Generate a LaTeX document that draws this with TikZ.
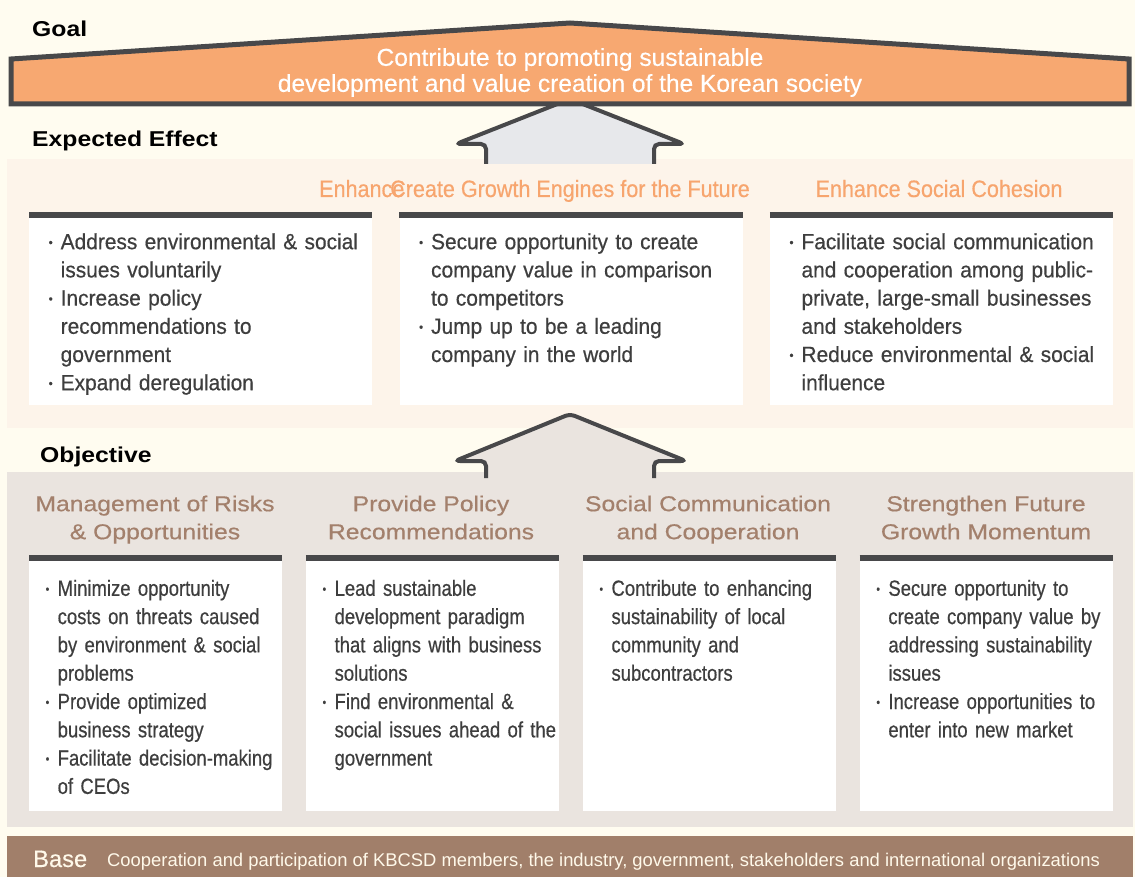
\documentclass[tikz,border=0pt]{standalone}
\usepackage{fontspec}
\setmainfont{Liberation Sans}
\newfontfamily\goalfont[FakeBold=0.4]{Liberation Sans}
\newfontfamily\bodyfont[FakeStretch=0.95, FakeBold=0.5]{Liberation Sans}
\newfontfamily\objbodyfont[FakeStretch=0.84, FakeBold=0.5]{Liberation Sans}
\newfontfamily\effectfont[FakeStretch=0.91, FakeBold=0.5]{Liberation Sans}
\newfontfamily\widefont[FakeStretch=1.15, FakeBold=0.5]{Liberation Sans}
\newfontfamily\titlefont[FakeStretch=1.15]{Liberation Sans}
\usetikzlibrary{positioning, calc}
\definecolor{creamcolor}{RGB}{255, 252, 240}
\definecolor{effectband}{RGB}{253, 244, 234}
\definecolor{objband}{RGB}{234, 228, 223}
\definecolor{roofcolor}{RGB}{247, 168, 113}
\definecolor{edgecolor}{RGB}{72, 72, 74}
\definecolor{arrowgray}{RGB}{231, 232, 235}
\definecolor{effecttext}{RGB}{247, 165, 110}
\definecolor{objtext}{RGB}{163, 128, 108}
\definecolor{bodytext}{RGB}{62, 62, 62}
\definecolor{basecolor}{RGB}{161, 127, 106}
\definecolor{basetext}{RGB}{255, 249, 234}

\newlength{\bulw}
\setlength{\bulw}{12pt}
\newcommand{\bul}[1]{\par\hangindent=\bulw\hangafter=1\noindent\makebox[\bulw][l]{\strut\raisebox{2.6pt}{\scalebox{0.55}{\textbullet}}}#1\par}

\begin{document}
\begin{tikzpicture}[
    x=1pt, y=-1pt,
    effbox/.style={rectangle, fill=white, anchor=north west, inner sep=0pt, minimum width=343pt, minimum height=193pt},
    objbox/.style={rectangle, fill=white, anchor=north west, inner sep=0pt, minimum width=253pt, minimum height=256pt},
    topbar/.style={draw=edgecolor, line width=6pt},
    bodytxt/.style={anchor=north west, inner sep=0pt, text width=330pt, align=left, text=bodytext, font=\bodyfont\fontsize{22}{28.2}\selectfont},
    objtxt/.style={bodytxt, font=\objbodyfont\fontsize{22}{28.3}\selectfont},
    effhead/.style={anchor=base, inner sep=0pt, text=effecttext, font=\effectfont\fontsize{23.7}{28}\selectfont},
    objhead/.style={anchor=north, inner sep=0pt, align=center, text=objtext, font=\widefont\fontsize{21.5}{28}\selectfont},
    titletxt/.style={anchor=base west, inner sep=0pt, font=\titlefont\bfseries\fontsize{21.5}{26}\selectfont},
    bigarrow/.style={draw=edgecolor, line width=4pt, rounded corners=5pt},
]

% Background bands
\useasboundingbox (0,0) rectangle (1135,877);
\fill[creamcolor] (0,0) rectangle (1135,877);
\fill[effectband] (7,159) rectangle (1133,428);
\fill[objband] (7,472) rectangle (1133,827);
\fill[basecolor] (7,836) rectangle (1133,877);

% Arrow up to the goal
\path[bigarrow, fill=arrowgray] (486,164) -- (486,144) -- (456,144) -- (570,99) -- (684,144) -- (654,144) -- (654,164);

% Goal roof
\draw[draw=edgecolor, fill=roofcolor, line width=5pt] (11,59) -- (570,23) -- (1129,59) -- (1129,104) -- (11,104) -- cycle;
\node[anchor=north, inner sep=0pt, align=center, text=white, font=\goalfont\fontsize{24.5}{24}\selectfont] (goaltxt) at (570,47.9)
    {\strut Contribute to promoting sustainable\\ development and value creation of the Korean society};

% Arrow up to the expected effect
\path[bigarrow, fill=objband] (486,478) -- (486,461) -- (455,461) -- (570,414) -- (686,461) -- (654,461) -- (654,478);

% Section titles
\node[titletxt] (goal) at (32,37) {Goal};
\node[titletxt] (effect) at (32,147) {Expected Effect};
\node[titletxt] (objective) at (40,462) {Objective};

% Expected effect
\node[effhead, anchor=base west] (eff1head) at (319,197) {Enhance};
\node[effhead] (eff2head) at (570,197) {Create Growth Engines for the Future};
\node[effhead] (eff3head) at (939,197) {Enhance Social Cohesion};

\node[effbox] (eff1) at (29,212) {};
\node[effbox, right=27pt of eff1] (eff2) {};
\node[effbox, right=27pt of eff2] (eff3) {};
\foreach \b in {eff1, eff2, eff3}
    \draw[topbar] ([yshift=-3pt]\b.north west) -- ([yshift=-3pt]\b.north east);

\node[bodytxt] (eff1txt) at ([xshift=19.5pt, yshift=-8.8pt]eff1.north west) {
    \bul{Address environmental \& social\newline issues voluntarily}
    \bul{Increase policy\newline recommendations to\newline government}
    \bul{Expand deregulation}};
\node[bodytxt] (eff2txt) at ([xshift=19.5pt, yshift=-8.8pt]eff2.north west) {
    \bul{Secure opportunity to create\newline company value in comparison\newline to competitors}
    \bul{Jump up to be a leading\newline company in the world}};
\node[bodytxt] (eff3txt) at ([xshift=19.5pt, yshift=-8.8pt]eff3.north west) {
    \bul{Facilitate social communication\newline and cooperation among public-\newline private, large-small businesses\newline and stakeholders}
    \bul{Reduce environmental \& social\newline influence}};

% Objective
\node[objhead] (obj1head) at (155,491.4) {\strut Management of Risks\\ \& Opportunities};
\node[objhead] (obj2head) at (431,491.4) {\strut Provide Policy\\ Recommendations};
\node[objhead] (obj3head) at (708,491.4) {\strut Social Communication\\ and Cooperation};
\node[objhead] (obj4head) at (986,491.4) {\strut Strengthen Future\\ Growth Momentum};

\node[objbox] (obj1) at (29,555) {};
\node[objbox, right=23.5pt of obj1] (obj2) {};
\node[objbox, right=23.5pt of obj2] (obj3) {};
\node[objbox, right=23.5pt of obj3] (obj4) {};
\foreach \b in {obj1, obj2, obj3, obj4}
    \draw[topbar] ([yshift=-3pt]\b.north west) -- ([yshift=-3pt]\b.north east);

\node[objtxt] (obj1txt) at ([xshift=16.5pt, yshift=-12.3pt]obj1.north west) {
    \bul{Minimize opportunity\newline costs on threats caused\newline by environment \& social\newline problems}
    \bul{Provide optimized\newline business strategy}
    \bul{Facilitate decision-making\newline of CEOs}};
\node[objtxt] (obj2txt) at ([xshift=16.5pt, yshift=-12.3pt]obj2.north west) {
    \bul{Lead sustainable\newline development paradigm\newline that aligns with business\newline solutions}
    \bul{Find environmental \&\newline social issues ahead of the\newline government}};
\node[objtxt] (obj3txt) at ([xshift=16.5pt, yshift=-12.3pt]obj3.north west) {
    \bul{Contribute to enhancing\newline sustainability of local\newline community and\newline subcontractors}};
\node[objtxt] (obj4txt) at ([xshift=16.5pt, yshift=-12.3pt]obj4.north west) {
    \bul{Secure opportunity to\newline create company value by\newline addressing sustainability\newline issues}
    \bul{Increase opportunities to\newline enter into new market}};

% Base
\node[anchor=base west, inner sep=0pt, text=basetext, font=\goalfont\fontsize{23.7}{26}\selectfont] (base) at (33,867) {Base};
\node[anchor=base west, inner sep=0pt, text=basetext, font=\fontsize{18.4}{22}\selectfont] (basetxt) at (107,866)
    {Cooperation and participation of KBCSD members, the industry, government, stakeholders and international organizations};

\end{tikzpicture}
\end{document}
